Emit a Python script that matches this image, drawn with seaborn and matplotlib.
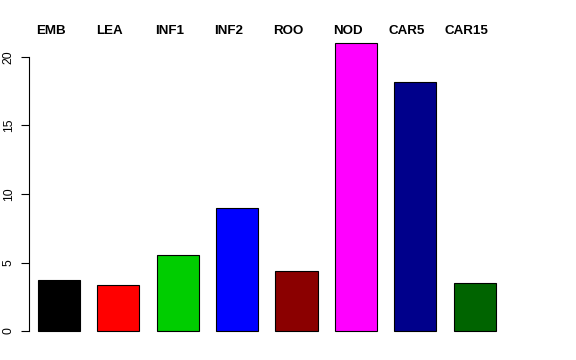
import pandas as pd
import seaborn as sns
import matplotlib.pyplot as plt

tissues = ['EMB', 'LEA', 'INF1', 'INF2', 'ROO', 'NOD', 'CAR5', 'CAR15']
values = [3.72, 3.36, 5.55, 8.98, 4.36, 21.0, 18.15, 3.5]
colors = ['#000000', '#FF0000', '#00CD00', '#0000FF', '#8B0000',
          '#FF00FF', '#00008B', '#006400']

df = pd.DataFrame({'tissue': tissues, 'value': values})

sns.set_style('ticks', {'axes.edgecolor': 'black', 'text.color': 'black',
                        'xtick.color': 'black', 'ytick.color': 'black'})
plt.rcParams['font.family'] = ['Liberation Sans', 'DejaVu Sans']

fig = plt.figure(figsize=(5.76, 3.6), dpi=100)
ax = fig.add_axes([28.5 / 576, 1 - 342 / 360, (520 - 28.5) / 576, (342 - 32.3) / 360])

sns.barplot(data=df, x='tissue', y='value', hue='tissue', palette=colors,
            width=0.71, edgecolor='black', linewidth=0.8, saturation=1,
            legend=False, ax=ax)

ax.set_xlim(-0.51, 7.76)
ax.set_ylim(-0.8, 21.8)
ax.set(xlabel='', ylabel='')
ax.set_xticks([])
ax.set_yticks([0, 5, 10, 15, 20])
ax.tick_params(axis='y', left=True, length=5.8, width=0.8, pad=4,
               labelsize=8.8, labelrotation=90, colors='black')
for lab in ax.get_yticklabels():
    lab.set_va('center')

for s in ['top', 'right', 'bottom']:
    ax.spines[s].set_visible(False)
ax.spines['left'].set_bounds(0, 20)
ax.spines['left'].set_linewidth(0.8)

# names above the bars
for i, name in enumerate(tissues):
    ax.text(i - 0.14, 21.68, name, ha='center', va='baseline', color='black',
            fontsize=9.6, fontweight='bold', clip_on=False)

plt.savefig('out.png', dpi=100)
